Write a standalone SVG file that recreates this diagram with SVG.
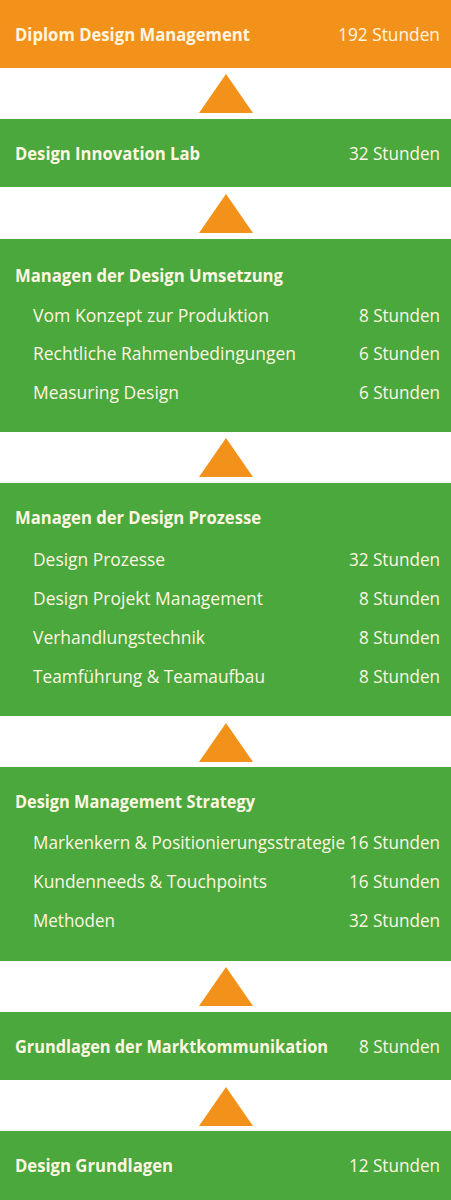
<svg xmlns="http://www.w3.org/2000/svg" width="451" height="1200" viewBox="0 0 451 1200">
<style>
.o{fill:#F3921B}
.g{fill:#4AA83D}
.tri{fill:#F3921B}
text{font-family:"Open Sans","Noto Sans","DejaVu Sans",sans-serif;font-size:17.5px;fill:#FFF6E2}
.b{font-weight:bold}
.r{text-anchor:end}
</style>
<rect width="451" height="1200" fill="#FFFFFF"/>
<g id="connectors">
<polygon class="tri" points="226,74 199,113 253,113"/>
<polygon class="tri" points="226,194 199,233 253,233"/>
<polygon class="tri" points="226,438 199,477 253,477"/>
<polygon class="tri" points="226,723 199,762 253,762"/>
<polygon class="tri" points="226,967 199,1006 253,1006"/>
<polygon class="tri" points="226,1087 199,1126 253,1126"/>
</g>
<g id="node-diplom">
<rect class="o" x="0" y="0" width="451" height="68"/>
<text class="b" x="15" y="41" textLength="235" lengthAdjust="spacingAndGlyphs">Diplom Design Management</text>
<text class="r" x="440" y="41" textLength="102" lengthAdjust="spacingAndGlyphs">192 Stunden</text>
</g>
<g id="node-innovation-lab">
<rect class="g" x="0" y="119" width="451" height="68"/>
<text class="b" x="15" y="160" textLength="185" lengthAdjust="spacingAndGlyphs">Design Innovation Lab</text>
<text class="r" x="440" y="160" textLength="91" lengthAdjust="spacingAndGlyphs">32 Stunden</text>
</g>
<g id="node-umsetzung">
<rect class="g" x="0" y="239" width="451" height="193"/>
<text class="b" x="15" y="282" textLength="268" lengthAdjust="spacingAndGlyphs">Managen der Design Umsetzung</text>
<text x="33" y="322" textLength="236" lengthAdjust="spacingAndGlyphs">Vom Konzept zur Produktion</text>
<text class="r" x="440" y="322" textLength="81" lengthAdjust="spacingAndGlyphs">8 Stunden</text>
<text x="33" y="360" textLength="263" lengthAdjust="spacingAndGlyphs">Rechtliche Rahmenbedingungen</text>
<text class="r" x="440" y="360" textLength="81" lengthAdjust="spacingAndGlyphs">6 Stunden</text>
<text x="33" y="399" textLength="146" lengthAdjust="spacingAndGlyphs">Measuring Design</text>
<text class="r" x="440" y="399" textLength="81" lengthAdjust="spacingAndGlyphs">6 Stunden</text>
</g>
<g id="node-prozesse">
<rect class="g" x="0" y="483" width="451" height="233"/>
<text class="b" x="15" y="524" textLength="246" lengthAdjust="spacingAndGlyphs">Managen der Design Prozesse</text>
<text x="33" y="566" textLength="132" lengthAdjust="spacingAndGlyphs">Design Prozesse</text>
<text class="r" x="440" y="566" textLength="91" lengthAdjust="spacingAndGlyphs">32 Stunden</text>
<text x="33" y="605" textLength="230" lengthAdjust="spacingAndGlyphs">Design Projekt Management</text>
<text class="r" x="440" y="605" textLength="81" lengthAdjust="spacingAndGlyphs">8 Stunden</text>
<text x="33" y="644" textLength="172" lengthAdjust="spacingAndGlyphs">Verhandlungstechnik</text>
<text class="r" x="440" y="644" textLength="81" lengthAdjust="spacingAndGlyphs">8 Stunden</text>
<text x="33" y="683" textLength="232" lengthAdjust="spacingAndGlyphs">Teamführung &amp; Teamaufbau</text>
<text class="r" x="440" y="683" textLength="81" lengthAdjust="spacingAndGlyphs">8 Stunden</text>
</g>
<g id="node-strategy">
<rect class="g" x="0" y="767" width="451" height="194"/>
<text class="b" x="15" y="808" textLength="240" lengthAdjust="spacingAndGlyphs">Design Management Strategy</text>
<text x="33" y="849" textLength="312" lengthAdjust="spacingAndGlyphs">Markenkern &amp; Positionierungsstrategie</text>
<text class="r" x="440" y="849" textLength="91" lengthAdjust="spacingAndGlyphs">16 Stunden</text>
<text x="33" y="888" textLength="234" lengthAdjust="spacingAndGlyphs">Kundenneeds &amp; Touchpoints</text>
<text class="r" x="440" y="888" textLength="91" lengthAdjust="spacingAndGlyphs">16 Stunden</text>
<text x="33" y="927" textLength="82" lengthAdjust="spacingAndGlyphs">Methoden</text>
<text class="r" x="440" y="927" textLength="91" lengthAdjust="spacingAndGlyphs">32 Stunden</text>
</g>
<g id="node-marktkommunikation">
<rect class="g" x="0" y="1012" width="451" height="68"/>
<text class="b" x="15" y="1053" textLength="313" lengthAdjust="spacingAndGlyphs">Grundlagen der Marktkommunikation</text>
<text class="r" x="440" y="1053" textLength="81" lengthAdjust="spacingAndGlyphs">8 Stunden</text>
</g>
<g id="node-grundlagen">
<rect class="g" x="0" y="1131" width="451" height="69"/>
<text class="b" x="15" y="1172" textLength="158" lengthAdjust="spacingAndGlyphs">Design Grundlagen</text>
<text class="r" x="440" y="1172" textLength="91" lengthAdjust="spacingAndGlyphs">12 Stunden</text>
</g>
</svg>
